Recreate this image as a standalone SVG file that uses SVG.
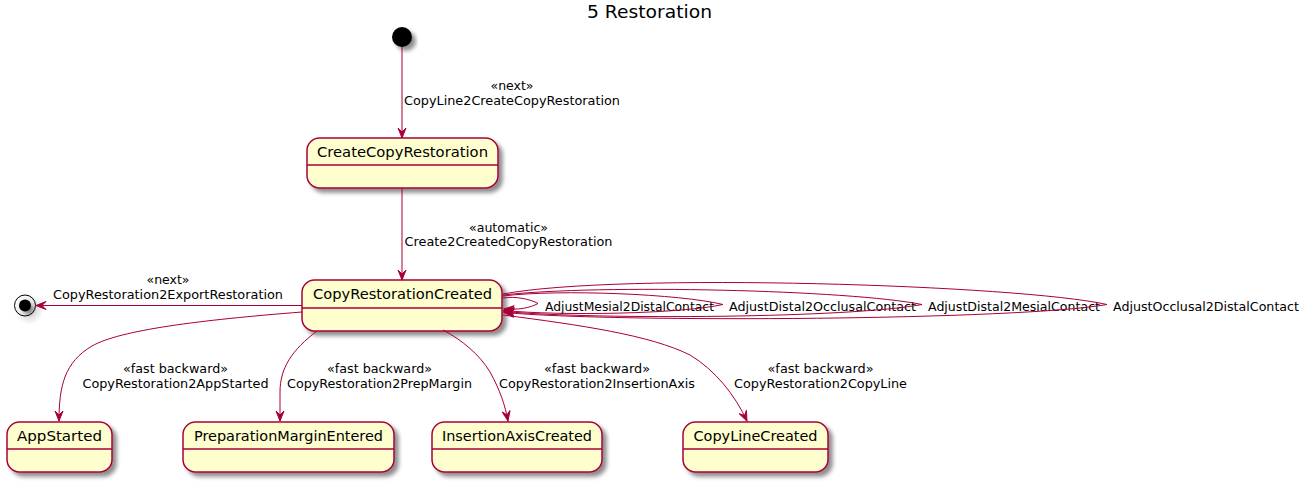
<svg xmlns="http://www.w3.org/2000/svg" width="1311" height="485" viewBox="0 0 1311 485">
<defs>
<filter id="shadow" x="-20%" y="-20%" width="150%" height="160%">
<feGaussianBlur in="SourceAlpha" stdDeviation="2"/>
<feOffset dx="4" dy="4" result="b"/>
<feComponentTransfer><feFuncA type="linear" slope="0.45"/></feComponentTransfer>
<feMerge><feMergeNode/><feMergeNode in="SourceGraphic"/></feMerge>
</filter>
<marker id="arrow" viewBox="-11 -5 12 10" markerWidth="12" markerHeight="10" refX="0" refY="0" markerUnits="userSpaceOnUse" orient="auto">
<path d="M0,0 L-10,-4 L-6,0 L-10,4 Z" fill="#A80036" stroke="#A80036" stroke-width="1"/>
</marker>
<style>
.box{fill:#FEFECE;stroke:#A80036;stroke-width:1.5}
.div{stroke:#A80036;stroke-width:1.5}
.name{font-family:"DejaVu Sans",sans-serif;font-size:14.6px;fill:#000;text-anchor:middle}
.lbl{font-family:"DejaVu Sans",sans-serif;font-size:13px;fill:#000;text-anchor:middle}
.lbls{font-family:"DejaVu Sans",sans-serif;font-size:13px;fill:#000}
.edge{fill:none;stroke:#A80036;stroke-width:1;marker-end:url(#arrow)}
.title{font-family:"DejaVu Sans",sans-serif;font-size:18px;fill:#000;text-anchor:middle}
</style>
</defs>
<rect width="1311" height="485" fill="#FFFFFF"/>
<text class="title" x="649.5" y="18" textLength="125" lengthAdjust="spacingAndGlyphs">5 Restoration</text>

<g id="start">
<circle cx="402" cy="37" r="10" fill="#000" filter="url(#shadow)"/>
</g>
<g id="end">
<g filter="url(#shadow)">
<circle cx="25" cy="305.5" r="10.5" fill="none" stroke="#000" stroke-width="1"/>
<circle cx="25" cy="305.5" r="6" fill="#000"/>
</g>
</g>

<g id="CreateCopyRestoration">
<rect class="box" x="307" y="138" width="191" height="50" rx="12.5" ry="12.5" filter="url(#shadow)"/>
<line class="div" x1="307" y1="165" x2="498" y2="165"/>
<text class="name" x="402.5" y="157" textLength="171" lengthAdjust="spacingAndGlyphs">CreateCopyRestoration</text>
</g>
<g id="CopyRestorationCreated">
<rect class="box" x="302" y="280" width="200" height="51" rx="12.5" ry="12.5" filter="url(#shadow)"/>
<line class="div" x1="302" y1="308" x2="502" y2="308"/>
<text class="name" x="402.5" y="299" textLength="179" lengthAdjust="spacingAndGlyphs">CopyRestorationCreated</text>
</g>
<g id="AppStarted">
<rect class="box" x="7" y="422" width="105" height="50" rx="12.5" ry="12.5" filter="url(#shadow)"/>
<line class="div" x1="7" y1="449" x2="112" y2="449"/>
<text class="name" x="59.5" y="441" textLength="85" lengthAdjust="spacingAndGlyphs">AppStarted</text>
</g>
<g id="PreparationMarginEntered">
<rect class="box" x="183" y="422" width="211" height="50" rx="12.5" ry="12.5" filter="url(#shadow)"/>
<line class="div" x1="183" y1="449" x2="394" y2="449"/>
<text class="name" x="288.5" y="441" textLength="189" lengthAdjust="spacingAndGlyphs">PreparationMarginEntered</text>
</g>
<g id="InsertionAxisCreated">
<rect class="box" x="432" y="422" width="170" height="50" rx="12.5" ry="12.5" filter="url(#shadow)"/>
<line class="div" x1="432" y1="449" x2="602" y2="449"/>
<text class="name" x="517" y="441" textLength="150" lengthAdjust="spacingAndGlyphs">InsertionAxisCreated</text>
</g>
<g id="CopyLineCreated">
<rect class="box" x="683" y="422" width="145" height="50" rx="12.5" ry="12.5" filter="url(#shadow)"/>
<line class="div" x1="683" y1="449" x2="828" y2="449"/>
<text class="name" x="755.5" y="441" textLength="124" lengthAdjust="spacingAndGlyphs">CopyLineCreated</text>
</g>

<g id="connectors">
<path class="edge" d="M402,47 L402,138"/>
<text class="lbl" x="512" y="90" textLength="43" lengthAdjust="spacingAndGlyphs">«next»</text>
<text class="lbl" x="512" y="104.5" textLength="216" lengthAdjust="spacingAndGlyphs">CopyLine2CreateCopyRestoration</text>

<path class="edge" d="M402,188 L402,280"/>
<text class="lbl" x="508.5" y="232" textLength="79" lengthAdjust="spacingAndGlyphs">«automatic»</text>
<text class="lbl" x="508.5" y="246" textLength="208" lengthAdjust="spacingAndGlyphs">Create2CreatedCopyRestoration</text>

<path class="edge" d="M302,305.5 L36,305.5"/>
<text class="lbl" x="168" y="284" textLength="43" lengthAdjust="spacingAndGlyphs">«next»</text>
<text class="lbl" x="168" y="298.5" textLength="230" lengthAdjust="spacingAndGlyphs">CopyRestoration2ExportRestoration</text>

<path class="edge" d="M503,298 C515,296 530,299 538,303.5 C530,308 518,310 504,309"/>
<text class="lbls" x="545" y="310.5" textLength="169" lengthAdjust="spacingAndGlyphs">AdjustMesial2DistalContact</text>
<path class="edge" d="M503,296 C560,289 680,294 723,304.5 C680,314 560,316 504,310.5"/>
<text class="lbls" x="729" y="310.5" textLength="187" lengthAdjust="spacingAndGlyphs">AdjustDistal2OcclusalContact</text>
<path class="edge" d="M503,295 C600,284 850,290 922,304.5 C850,318 600,320 504,311.5"/>
<text class="lbls" x="928" y="310.5" textLength="172" lengthAdjust="spacingAndGlyphs">AdjustDistal2MesialContact</text>
<path class="edge" d="M503,294 C620,272 1020,285 1107,304.5 C1020,320 620,323 504,312.5"/>
<text class="lbls" x="1113" y="310.5" textLength="186" lengthAdjust="spacingAndGlyphs">AdjustOcclusal2DistalContact</text>

<path class="edge" d="M302,312 C200,320 120,330 92,346 C65,362 59,385 59,421"/>
<text class="lbl" x="175.5" y="373" textLength="105" lengthAdjust="spacingAndGlyphs">«fast backward»</text>
<text class="lbl" x="175.5" y="388" textLength="186" lengthAdjust="spacingAndGlyphs">CopyRestoration2AppStarted</text>

<path class="edge" d="M317,331 C292,350 280,368 280,392 C280,405 280,412 280,421"/>
<text class="lbl" x="379.5" y="373" textLength="105" lengthAdjust="spacingAndGlyphs">«fast backward»</text>
<text class="lbl" x="379.5" y="388" textLength="185" lengthAdjust="spacingAndGlyphs">CopyRestoration2PrepMargin</text>

<path class="edge" d="M443,330 C462,340 480,355 490,372 C500,390 505,405 508,421"/>
<text class="lbl" x="597" y="373" textLength="106" lengthAdjust="spacingAndGlyphs">«fast backward»</text>
<text class="lbl" x="597" y="388" textLength="196" lengthAdjust="spacingAndGlyphs">CopyRestoration2InsertionAxis</text>

<path class="edge" d="M503,315 C580,325 650,335 690,355 C715,370 735,395 747,421"/>
<text class="lbl" x="820.5" y="373" textLength="106" lengthAdjust="spacingAndGlyphs">«fast backward»</text>
<text class="lbl" x="820.5" y="388" textLength="173" lengthAdjust="spacingAndGlyphs">CopyRestoration2CopyLine</text>
</g>
</svg>
